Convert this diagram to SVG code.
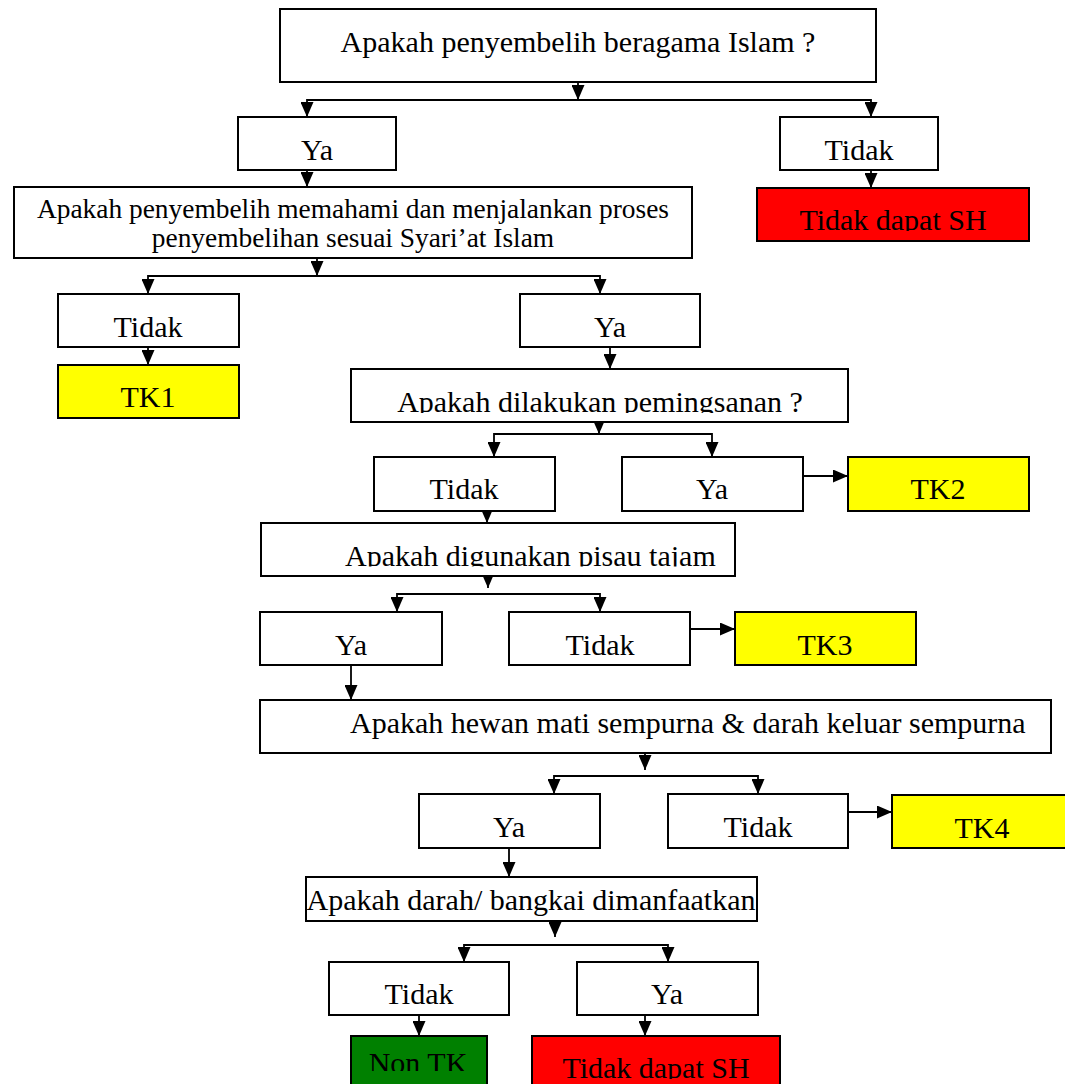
<svg xmlns="http://www.w3.org/2000/svg" width="1065" height="1084" viewBox="0 0 1065 1084">
<style>
.b{fill:#fff;stroke:#000;stroke-width:2}
.y{fill:#ffff00}
.r{fill:#ff0000}
.g{fill:#008000}
text{font-family:"Liberation Serif","Times New Roman",serif;font-size:30px;fill:#000;text-anchor:middle}
.s{text-anchor:start}
.c path{fill:none;stroke:#000;stroke-width:1.8;marker-end:url(#ah)}
</style>
<defs>
<marker id="ah" viewBox="0 0 15 13" markerWidth="15" markerHeight="13" refX="15" refY="6.5" orient="auto" markerUnits="userSpaceOnUse"><path d="M0,0 L15,6.5 L0,13 Z" fill="#000"/></marker>
<clipPath id="k4"><rect x="757" y="188" width="272" height="43"/></clipPath>
<clipPath id="k9"><rect x="351" y="369" width="497" height="44"/></clipPath>
<clipPath id="k13"><rect x="261" y="523" width="474" height="43.5"/></clipPath>
<clipPath id="k24"><rect x="351" y="1036" width="136" height="35"/></clipPath>
<clipPath id="k25"><rect x="532" y="1036" width="248" height="43"/></clipPath>
</defs>
<g id="connectors" class="c">
<path d="M578,82 V100"/>
<path d="M578,100 H307 V117"/>
<path d="M578,100 H871 V117"/>
<path d="M307,170 V187"/>
<path d="M871,170 V188"/>
<path d="M317,258 V276"/>
<path d="M317,276 H148 V294"/>
<path d="M317,276 H600 V294"/>
<path d="M148,347 V365"/>
<path d="M610,347 V369"/>
<path d="M599,417 V434"/>
<path d="M599,434 H494 V457"/>
<path d="M599,434 H712 V457"/>
<path d="M487,511 V523"/>
<path d="M803,476 H848"/>
<path d="M488,576 V588"/>
<path d="M488,594 H397 V612"/>
<path d="M488,594 H600 V612"/>
<path d="M690,629 H735"/>
<path d="M351,665 V700"/>
<path d="M645,753 V770"/>
<path d="M645,776 H554 V794"/>
<path d="M645,776 H758 V794"/>
<path d="M848,812 H892"/>
<path d="M509,848 V877"/>
<path d="M555,921 V937"/>
<path d="M555,945 H464 V962"/>
<path d="M555,945 H668 V962"/>
<path d="M419,1015 V1036"/>
<path d="M645,1015 V1036"/>
</g>
<g id="n1"><rect class="b" x="280" y="9" width="596" height="73"/><text x="578" y="52">Apakah penyembelih beragama Islam ?</text></g>
<g id="n2"><rect class="b" x="238" y="117" width="158" height="53"/><text x="317" y="160">Ya</text></g>
<g id="n3"><rect class="b" x="780" y="117" width="158" height="53"/><text x="859" y="160">Tidak</text></g>
<g id="n4"><rect class="b r" x="757" y="188" width="272" height="53"/><text x="893" y="230" clip-path="url(#k4)">Tidak dapat SH</text></g>
<g id="n5"><rect class="b" x="14" y="187" width="678" height="71"/><text x="353" y="218" style="font-size:27.4px">Apakah penyembelih memahami dan menjalankan proses</text><text x="353" y="247" style="font-size:27.4px">penyembelihan sesuai Syari’at Islam</text></g>
<g id="n6"><rect class="b" x="58" y="294" width="181" height="53"/><text x="148" y="337">Tidak</text></g>
<g id="n7"><rect class="b" x="520" y="294" width="180" height="53"/><text x="610" y="337">Ya</text></g>
<g id="n8"><rect class="b y" x="58" y="365" width="181" height="53"/><text x="148" y="407">TK1</text></g>
<g id="n9"><rect class="b" x="351" y="369" width="497" height="53"/><text x="600" y="412" clip-path="url(#k9)">Apakah dilakukan pemingsanan ?</text></g>
<g id="n10"><rect class="b" x="374" y="457" width="181" height="54"/><text x="464" y="499">Tidak</text></g>
<g id="n11"><rect class="b" x="622" y="457" width="181" height="54"/><text x="712" y="499">Ya</text></g>
<g id="n12"><rect class="b y" x="848" y="457" width="181" height="54"/><text x="938" y="499">TK2</text></g>
<g id="n13"><rect class="b" x="261" y="523" width="474" height="53"/><text class="s" x="345" y="566" clip-path="url(#k13)">Apakah digunakan pisau tajam</text></g>
<g id="n14"><rect class="b" x="260" y="612" width="182" height="53"/><text x="351" y="655">Ya</text></g>
<g id="n15"><rect class="b" x="509" y="612" width="181" height="53"/><text x="600" y="655">Tidak</text></g>
<g id="n16"><rect class="b y" x="735" y="612" width="181" height="53"/><text x="825" y="655">TK3</text></g>
<g id="n17"><rect class="b" x="260" y="700" width="791" height="53"/><text class="s" x="350" y="733">Apakah hewan mati sempurna &amp; darah keluar sempurna</text></g>
<g id="n18"><rect class="b" x="419" y="794" width="181" height="54"/><text x="509" y="837">Ya</text></g>
<g id="n19"><rect class="b" x="668" y="794" width="180" height="54"/><text x="758" y="837">Tidak</text></g>
<g id="n20"><rect class="b y" x="892" y="795" width="181" height="53"/><text x="982" y="838">TK4</text></g>
<g id="n21"><rect class="b" x="306" y="877" width="451" height="44"/><text x="531" y="910">Apakah darah/ bangkai dimanfaatkan</text></g>
<g id="n22"><rect class="b" x="329" y="962" width="180" height="53"/><text x="419" y="1004">Tidak</text></g>
<g id="n23"><rect class="b" x="577" y="962" width="181" height="53"/><text x="667" y="1004">Ya</text></g>
<g id="n24"><rect class="b g" x="351" y="1036" width="136" height="60"/><text x="418" y="1073" clip-path="url(#k24)">Non TK</text></g>
<g id="n25"><rect class="b r" x="532" y="1036" width="248" height="60"/><text x="656" y="1078" clip-path="url(#k25)">Tidak dapat SH</text></g>
</svg>
